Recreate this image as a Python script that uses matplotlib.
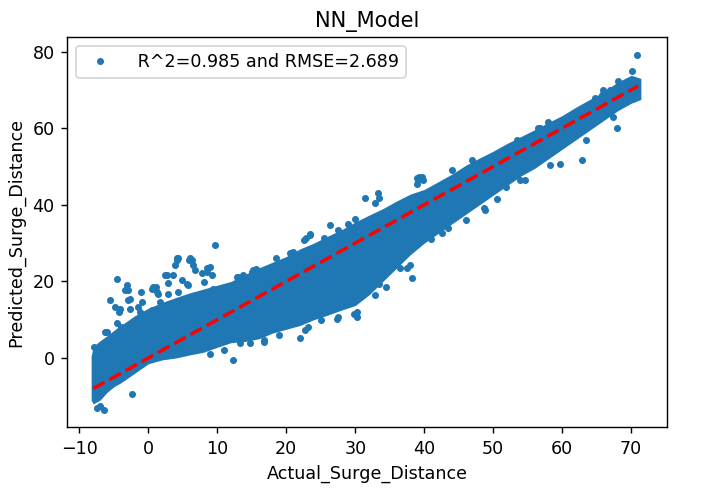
### Imports ###
import matplotlib
matplotlib.use('Agg')
import matplotlib.pyplot as plt

### Data ###
# Envelope of the dense core of the scatter cloud (actual -> predicted)
core_x = [-8.3, -8.0, -7.0, -6.0, -5.0, -4.0, -2.0, 0.0, 2.0, 4.0, 6.0, 8.0,
          10.0, 12.0, 14.0, 16.0, 18.0, 20.0, 22.0, 24.0, 26.0, 28.0, 30.0,
          32.0, 34.0, 36.0, 38.0, 40.0, 42.0, 44.0, 46.0, 48.0, 50.0, 52.0,
          54.0, 56.0, 58.0, 60.0, 62.0, 64.0, 66.0, 68.0, 70.0, 71.4]
core_upper = [0.5, 3.0, 4.5, 5.8, 7.2, 8.5, 11.0, 13.0, 14.5, 15.8, 17.0, 18.0,
              19.0, 20.0, 21.8, 23.5, 25.0, 26.5, 28.5, 30.0, 31.8, 33.5, 35.5,
              37.3, 39.0, 41.0, 42.8, 44.0, 46.0, 48.0, 50.3, 52.2, 54.0, 56.0,
              57.8, 59.6, 61.5, 63.3, 65.5, 67.5, 69.5, 72.0, 73.8, 73.0]
core_lower = [-11.0, -12.0, -11.0, -9.0, -7.5, -6.5, -4.0, -1.5, -0.5, 0.0, 0.8, 1.5,
              2.8, 4.0, 4.3, 5.0, 6.5, 7.5, 8.5, 10.0, 11.2, 12.5, 13.7,
              16.5, 20.0, 23.5, 27.0, 30.0, 32.5, 35.0, 37.5, 40.0, 42.5, 45.0,
              47.5, 49.5, 52.0, 54.5, 57.0, 59.5, 62.0, 64.5, 66.5, 67.5]

# Individual points outside (or on the rim of) the dense core
pts_x = [9.7, -4.5, -3.1, -3.4, -5.55, -2.65, -2.65, -1.06, 0.5, 1.1, 2.7, 3.9,
         4.2, 5.9, 6.5, 6.8, 3.6, 4.8, 2.9, 1.45, 2.9, 4.35, 5.8, 7.7, 8.5, 9.2,
         8.0, 9.4, -1.45, -4.1, -0.96, 0.5, -4.6, -6.3, -4.1, -7.9, -6.5, 12.3,
         -2.4, 15.0, 15.6, 12.8, 13.7, 16.7, 14.7, -6.5, -7.5, -7.0, 4.1, 6.0,
         8.9, 13.0, 15.5, 22.0, 22.7, 27.3, 30.2, 29.8, 31.7, 32.9, 33.3, 36.7,
         37.9, 36.2, 31.4, 33.3, 33.5, 32.9, 30.0, 26.3, 27.5, 22.5, 23.5, 21.0,
         38.9, 39.3, 39.8, 38.9, 31.9, 27.5, 25.0, 38.2, 37.5, 35.8, 42.5, 41.0,
         70.8, 70.1, 67.9, 62.8, 64.7, 65.8, 66.9, 59.7, 54.6, 48.6, 46.1, 48.8,
         39.1, 39.7, 56.5, 58.0, 44.0,
         4.3, 6.3, 2.4, 5.6, 8.5, -2.9, -4.8, -4.3, -2.9, 0.7, 1.2, 1.7, -1.2,
         -6.0, -3.9, -6.8, 23.2, 30.2, 33.4, 36.5, 16.7, 13.3, 23.4, 22.8, 20.5,
         15.2, 53.9, 58.2, 51.9, 63.5, 67.4, 46.9, 53.4, 56.8, 63.3, 65.9, 68.1,
         18.5, 25.5, 29.0, 34.5, 43.5, 50.5, 11.0, 19.0, 9.0]
pts_y = [29.5, 20.6, 19.0, 17.7, 15.1, 15.5, 12.7, 17.3, 18.1, 18.6, 21.6, 24.2,
         25.7, 25.5, 24.2, 22.9, 21.6, 20.3, 19.5, 16.8, 16.8, 17.3, 19.0, 22.1,
         22.5, 21.6, 19.9, 18.1, 13.3, 12.9, 14.6, 12.5, 9.0, 6.8, 7.2, 2.9, 3.3,
         -0.5, -9.3, 22.5, 23.2, 21.2, 21.6, 4.6, 3.8, -13.7, -13.0, -12.6, 26.0,
         26.0, 23.8, 21.2, 22.9, 5.1, 7.2, 10.3, 10.7, 11.6, 18.6, 16.4, 19.9,
         26.8, 24.2, 28.5, 41.7, 43.0, 41.7, 40.4, 36.4, 34.7, 33.4, 30.8, 32.1,
         27.7, 46.9, 47.3, 46.5, 45.5, 18.6, 10.7, 10.0, 20.8, 23.4, 25.5, 32.5,
         31.0, 79.1, 74.8, 60.0, 51.7, 67.8, 68.6, 70.0, 50.6, 46.5, 39.1, 36.0,
         38.6, 46.5, 47.3, 60.0, 61.5, 49.0,
         26.0, 25.5, 21.6, 19.4, 23.4, 17.7, 13.3, 12.1, 15.1, 18.6, 17.3, 14.6,
         12.0, 6.8, 8.1, 3.3, 8.1, 12.0, 19.4, 23.4, 4.2, 3.8, 32.3, 31.3, 27.3,
         22.9, 46.5, 50.4, 44.7, 56.9, 63.0, 51.7, 56.9, 60.0, 65.2, 70.0, 72.2,
         26.0, 31.2, 35.0, 18.5, 34.0, 41.5, 2.2, 6.0, 1.0]

# Ideal fit line ends (min and max of the actual values)
fit_x = [-8.0, 71.0]
fit_y = [-8.0, 71.0]

r2 = 0.985
rmse = 2.689
blue = '#1f77b4'

### Plot ###
fig = plt.figure(figsize=(5.58, 3.961), dpi=126)
ax = fig.add_axes([0.0953, 0.1437, 0.8535, 0.782])

# Dense core of overlapping points
ax.fill_between(core_x, core_lower, core_upper, color=blue, lw=0)
# Scattered points
ax.plot(pts_x, pts_y, '.', color=blue,
        label=f' R^2={r2} and RMSE={rmse}')
# Red dashed reference line
ax.plot(fit_x, fit_y, 'r--', lw=2)

ax.set_xlim(-11.8, 75.2)
ax.set_ylim(-18.1, 83.8)
ax.set_title('NN_Model')
ax.set_xlabel('Actual_Surge_Distance')
ax.set_ylabel('Predicted_Surge_Distance')
ax.legend(loc='upper left')

fig.savefig('out.png', dpi=126)
